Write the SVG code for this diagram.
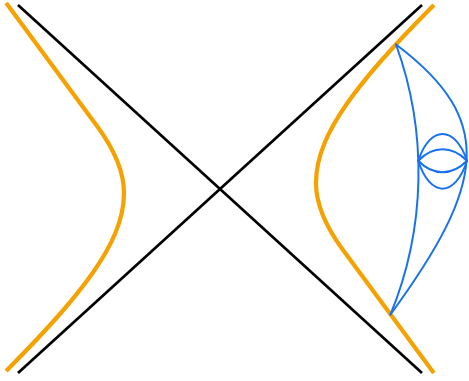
<svg xmlns="http://www.w3.org/2000/svg" width="469" height="381" viewBox="0 0 469 381">
  <style>
    .axis { stroke: #000; stroke-width: 2.7; fill: none; stroke-linecap: butt; }
    .branch { stroke: #F5A100; stroke-width: 4.2; fill: none; stroke-linecap: butt; stroke-linejoin: round; }
    .geo { stroke: #1872F0; stroke-width: 2; fill: none; stroke-linecap: round; }
  </style>
  <defs>
    <path id="branchShape" d="M 433.9,5 Q 400.8,38.2 379.2,63 Q 360.3,84.7 347.4,103 Q 332.2,124.65 324.6,143 Q 316,163.7 316,183 Q 316,213.4 343,250 L 433.8,373"/>
  </defs>
  <rect width="469" height="381" fill="#fff"/>
  <g id="axes">
    <line class="axis" x1="18" y1="5" x2="422" y2="373"/>
    <line class="axis" x1="18" y1="373" x2="422" y2="5"/>
  </g>
  <g id="left-branch">
    <use href="#branchShape" class="branch" transform="rotate(180 220 188)"/>
  </g>
  <g id="right-branch">
    <use href="#branchShape" class="branch"/>
  </g>
  <g id="geodesics">
    <path class="geo" d="M 396,44.5 A 374.5 374.5 0 0 1 390.5,314.5"/>
    <path class="geo" d="M 396,44.5 C 497.8,120.8 484,186.2 390.5,314.5"/>
    <path class="geo" d="M 418.3,160.7 C 430,125 455,125 467,160.7"/>
    <path class="geo" d="M 418.3,160.7 C 433,145.5 452,145.5 467,160.7"/>
    <path class="geo" d="M 418.3,160.7 C 433,176 452,176 467,160.7"/>
    <path class="geo" d="M 418.3,160.7 C 430,198 455,198 467,160.7"/>
  </g>
</svg>
